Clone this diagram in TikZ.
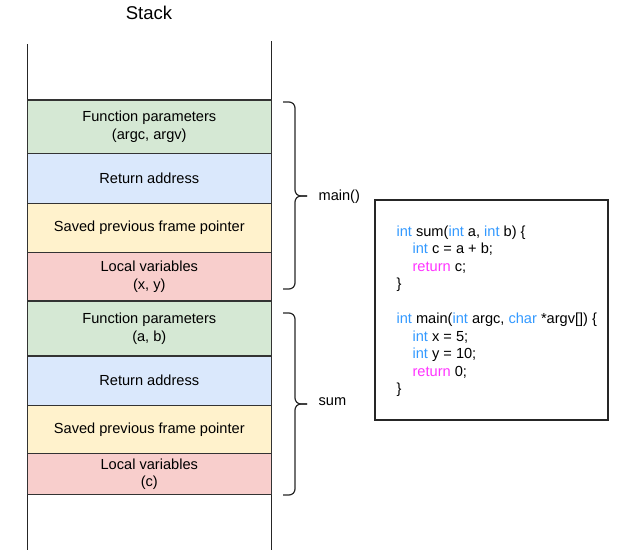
\documentclass[tikz,border=0pt]{standalone}
\usepackage{fontspec}
\setmainfont{Liberation Sans}
\usepackage{tikz}
\usetikzlibrary{positioning}
\definecolor{paramfill}{HTML}{D5E8D4}
\definecolor{retfill}{HTML}{DAE8FC}
\definecolor{fpfill}{HTML}{FFF2CC}
\definecolor{localfill}{HTML}{F8CECC}
\definecolor{kwblue}{HTML}{3399FF}
\definecolor{kwpink}{HTML}{FF33FF}
\definecolor{edgegray}{HTML}{333333}
\tikzset{%
  every path/.style={line width=1.2pt},
    frame/.style={%
        rectangle,
        draw=edgegray,
        minimum width=244pt,
        inner sep=0pt, outer sep=0pt,
        align=center,
        font=\fontsize{14.6}{17.5}\selectfont,
    },
    wall/.style={%
        draw=black!85,
    },
    bracket/.style={%
        draw=black!85,
        rounded corners=6pt,
    },
    framelabel/.style={%
        anchor=west,
        inner sep=0pt,
        font=\fontsize{14.6}{17.5}\selectfont,
    },
    codebox/.style={%
        rectangle,
        draw=black!85,
        minimum width=233pt,
        minimum height=220pt,
        inner sep=0pt,
    },
    codeline/.style={%
        anchor=base west,
        inner sep=0pt,
        font=\fontsize{14.6}{17.5}\selectfont,
    },
}
\newcommand{\kw}[1]{\textcolor{kwblue}{#1}}
\newcommand{\kr}[1]{\textcolor{kwpink}{#1}}

\begin{document}
\begin{tikzpicture}[x=1pt, y=-1pt]
	\useasboundingbox (0,0) rectangle (624,550);

	\node [inner sep=0pt, font=\fontsize{18.5}{22}\selectfont] (title) at (149,13) {Stack};

	% stack walls
	\coordinate (wall_lt) at (27.3,44);
	\coordinate (wall_lb) at (27.3,550);
	\coordinate (wall_rt) at (271.3,41);
	\coordinate (wall_rb) at (271.3,550);
	\draw[wall] (wall_lt) -- (wall_lb);
	\draw[wall] (wall_rt) -- (wall_rb);

	% frame of main()
	\node [frame, fill=paramfill, minimum height=53.5pt, anchor=north] at (149.3,100) (main_param) {Function parameters\\(argc, argv)};
	\node [frame, fill=retfill, minimum height=50pt, below=0pt of main_param] (main_ra) {Return address};
	\node [frame, fill=fpfill, minimum height=49pt, below=0pt of main_ra] (main_fp) {Saved previous frame pointer};
	\node [frame, fill=localfill, minimum height=48.5pt, below=0pt of main_fp] (main_lv) {Local variables\\(x, y)};

	% frame of sum
	\node [frame, fill=paramfill, minimum height=55pt, below=0pt of main_lv] (sum_param) {Function parameters\\(a, b)};
	\node [frame, fill=retfill, minimum height=49.5pt, below=0pt of sum_param] (sum_ra) {Return address};
	\node [frame, fill=fpfill, minimum height=48pt, below=0pt of sum_ra] (sum_fp) {Saved previous frame pointer};
	\node [frame, fill=localfill, minimum height=41pt, below=0pt of sum_fp] (sum_lv) {\raisebox{4pt}{\parbox{10em}{\centering Local variables\\(c)}}};

	% brackets
	\draw[bracket] (283,102) -- (295,102) -- (295,196) -- (307,196);
	\draw[bracket] (307,196) -- (295,196) -- (295,289) -- (283,289);
	\node [framelabel] at (318,196.5) (main_name) {main()};

	\draw[bracket] (283,313) -- (295,313) -- (295,404) -- (307,404);
	\draw[bracket] (307,404) -- (295,404) -- (295,495) -- (283,495);
	\node [framelabel] at (318,402) (sum_name) {sum};

	% source code
	\node [codebox] at (491.5,310) (code) {};
	\node [codeline] at (396,236) (sum_sig) {\kw{int} sum(\kw{int} a, \kw{int} b) \{};
	\node [codeline] at (412,253.5) (sum_c) {\kw{int} c = a + b;};
	\node [codeline] at (412,271) (sum_return) {\kr{return} c;};
	\node [codeline] at (396,288.5) (sum_end) {\}};
	\node [codeline] at (396,323.5) (main_sig) {\kw{int} main(\kw{int} argc, \kw{char} *argv[]) \{};
	\node [codeline] at (412,341) (main_x) {\kw{int} x = 5;};
	\node [codeline] at (412,358.5) (main_y) {\kw{int} y = 10;};
	\node [codeline] at (412,376) (main_return) {\kr{return} 0;};
	\node [codeline] at (396,393.5) (main_end) {\}};
\end{tikzpicture}
\end{document}
